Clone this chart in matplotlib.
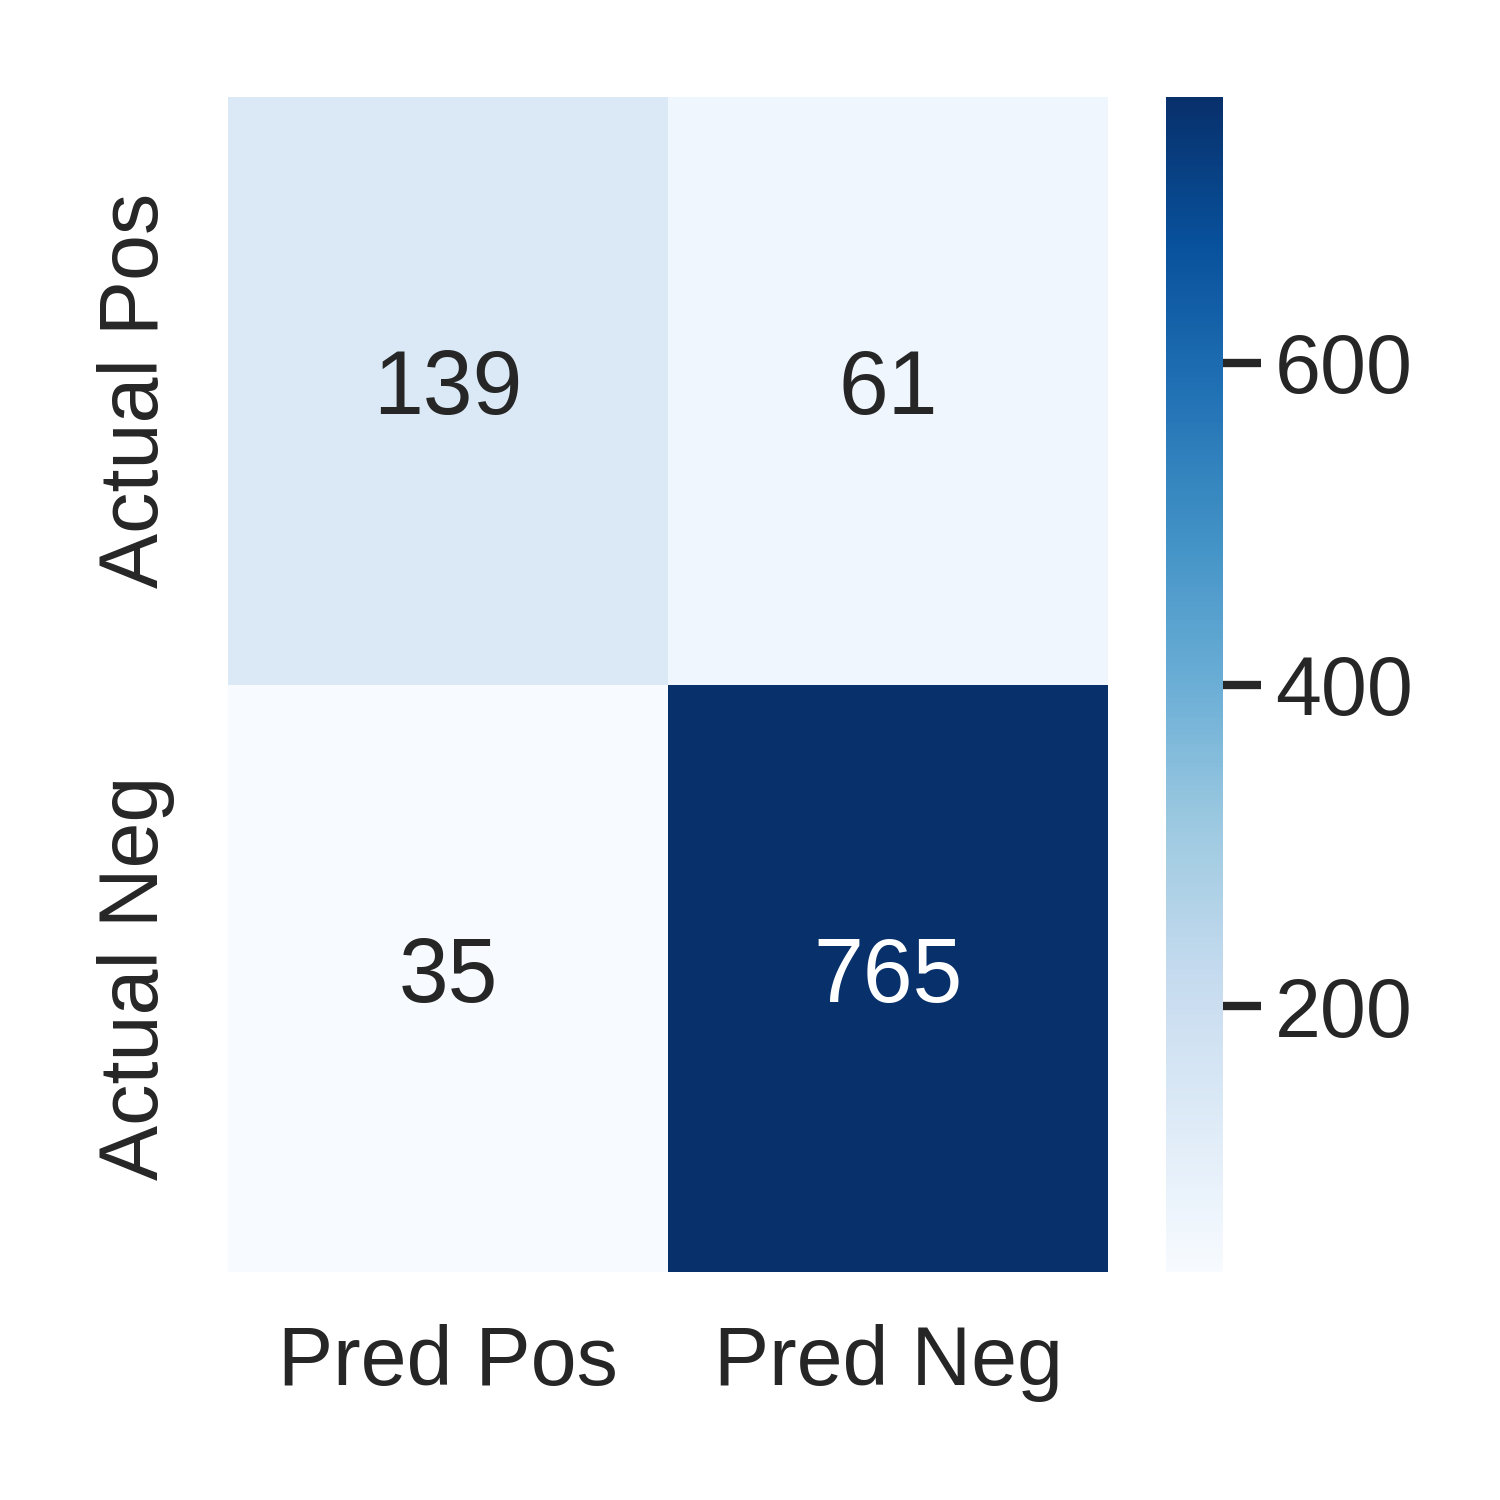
import matplotlib
matplotlib.use("Agg")
import matplotlib.pyplot as plt
import seaborn as sns
import numpy as np

row_labels = ["Actual Pos", "Actual Neg"]
col_labels = ["Pred Pos", "Pred Neg"]
values = [[139, 61], [35, 765]]
cbar_ticks = [200, 400, 600]

sns.set_theme(style="white", context="notebook")
plt.rcParams['font.family'] = ['Liberation Sans', 'DejaVu Sans']
plt.rcParams['text.color'] = '.15'

fig = plt.figure(figsize=(3, 3), dpi=500)
ax = fig.add_axes([0.152, 0.152, 0.5867, 0.7833])
cax = fig.add_axes([0.777, 0.152, 0.0383, 0.7833])

data = np.array(values)
sns.heatmap(data, ax=ax, cbar_ax=cax, cmap="Blues", annot=True, fmt="d",
            annot_kws={"fontsize": 12.9},
            xticklabels=col_labels, yticklabels=row_labels)
ax.tick_params(axis='both', length=0, labelsize=11.9, colors='.15')
ax.tick_params(axis='x', pad=7.5)
ax.tick_params(axis='y', pad=7.6)
ax.set_yticklabels(row_labels, rotation=90, va='center')
ax.set_xticklabels(col_labels, rotation=0)
cax.set_yticks(cbar_ticks)
cax.tick_params(axis='y', right=True, length=5.5, width=1.2, labelsize=11.9,
                colors='.15', pad=2.0)
for sp in cax.spines.values():
    sp.set_visible(False)

fig.savefig("out.png", dpi=500)
